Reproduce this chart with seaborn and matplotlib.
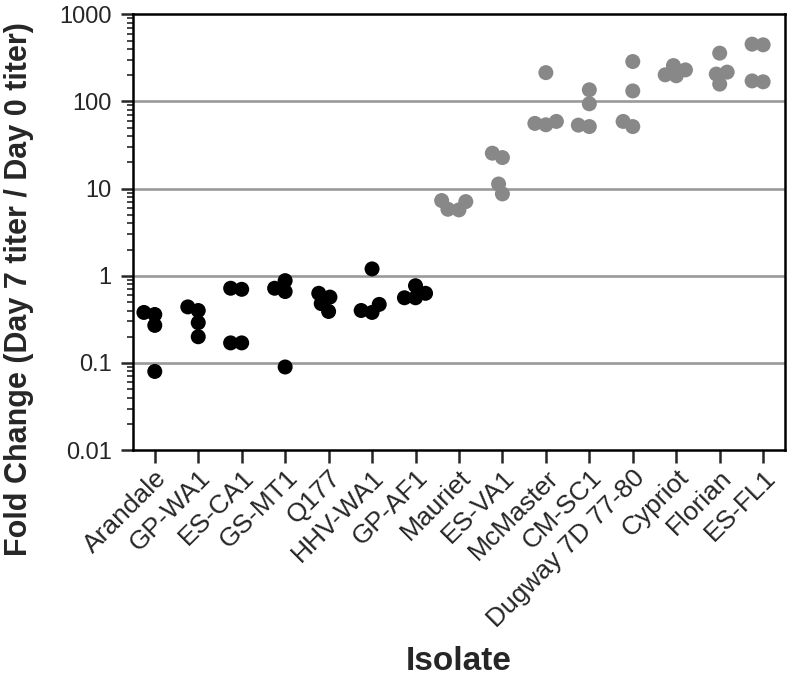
import matplotlib
matplotlib.use("Agg")
import matplotlib.pyplot as plt
import matplotlib.ticker as mticker
from matplotlib.collections import PathCollection
import numpy as np
import pandas as pd
import seaborn as sns
from seaborn.categorical import Beeswarm

isolates = ["Arandale", "GP-WA1", "ES-CA1", "GS-MT1", "Q177", "HHV-WA1", "GP-AF1",
            "Mauriet", "ES-VA1", "McMaster", "CM-SC1", "Dugway 7D 77-80", "Cypriot",
            "Florian", "ES-FL1"]
groups = ["low"] * 7 + ["high"] * 8
fold_change = [
    [0.36, 0.38, 0.27, 0.08],      # Arandale
    [0.44, 0.20, 0.29, 0.40],      # GP-WA1
    [0.72, 0.70, 0.17, 0.17],      # ES-CA1
    [0.72, 0.88, 0.66, 0.09],      # GS-MT1
    [0.57, 0.63, 0.48, 0.39],      # Q177
    [1.2, 0.47, 0.40, 0.38],       # HHV-WA1
    [0.63, 0.56, 0.56, 0.77],      # GP-AF1
    [7.1, 5.7, 5.8, 7.3],          # Mauriet
    [25.5, 22.7, 8.7, 11.3],       # ES-VA1
    [214, 59, 56, 54],             # McMaster
    [136, 94, 51.5, 53.5],         # CM-SC1
    [287, 132, 51.5, 59],          # Dugway 7D 77-80
    [230, 197, 202, 258],          # Cypriot
    [358, 217, 206, 158],          # Florian
    [454, 446, 168, 172],          # ES-FL1
]
ytick_vals = [0.01, 0.1, 1, 10, 100, 1000]
ytick_labels = ["0.01", "0.1", "1", "10", "100", "1000"]
grid_vals = [0.1, 1, 10, 100]

rows = []
for iso, grp, vals in zip(isolates, groups, fold_change):
    for v in vals:
        rows.append({"Isolate": iso, "group": grp, "fold": v})
df = pd.DataFrame(rows)

sns.set_style("ticks")
plt.rcParams["font.family"] = ["Liberation Sans", "DejaVu Sans"]

fig = plt.figure(figsize=(7.92, 6.79), dpi=100)
ax = fig.add_axes([0.168, 0.337, 0.823, 0.642])

for g in grid_vals:
    ax.axhline(g, color="#999999", lw=1.9, zorder=0)

marker_pt = 10.8
sns.swarmplot(data=df, x="Isolate", y="fold", hue="group", order=isolates,
              palette={"low": "black", "high": "#888888"}, size=marker_pt,
              linewidth=0, log_scale=True, legend=False, ax=ax, zorder=3)

# Let the swarm layout allow some overlap, like the original scatter
swarm_pt = 7.6
bee = Beeswarm(orient="x", width=0.8, warn_thresh=1.0)
for coll in ax.collections:
    offs = np.asarray(coll.get_offsets())
    if len(offs) == 0:
        continue
    center = float(np.round(np.mean(offs[:, 0])))

    def _draw(points, renderer, center=center):
        points.set_sizes([swarm_pt ** 2])
        bee(points, center)
        points.set_sizes([marker_pt ** 2])
        PathCollection.draw(points, renderer)

    coll.draw = _draw.__get__(coll)

ax.set_yscale("log")
ax.set_ylim(0.01, 1000)
ax.set_xlim(-0.5, 14.5)
ax.set_yticks(ytick_vals)
ax.set_yticklabels(ytick_labels)
ax.yaxis.set_minor_locator(mticker.LogLocator(base=10, subs=np.arange(2, 10), numticks=20))
ax.yaxis.set_minor_formatter(mticker.NullFormatter())

for s in ax.spines.values():
    s.set_linewidth(1.8)
    s.set_color("black")
    s.set_visible(True)

ax.tick_params(axis="y", which="major", length=8.5, width=1.8, labelsize=17, pad=7)
ax.tick_params(axis="y", which="minor", length=4.3, width=1.2)
ax.tick_params(axis="x", which="major", length=9, width=1.8, labelsize=19, pad=2)
plt.setp(ax.get_xticklabels(), rotation=45, ha="right", rotation_mode="anchor")

ax.set_xlabel("Isolate", fontsize=24, fontweight="bold", labelpad=10)
ax.set_ylabel("Fold Change (Day 7 titer / Day 0 titer)", fontsize=22, fontweight="bold")
ax.yaxis.set_label_coords(-0.152, 0.37)

fig.savefig("out.png", dpi=100)
